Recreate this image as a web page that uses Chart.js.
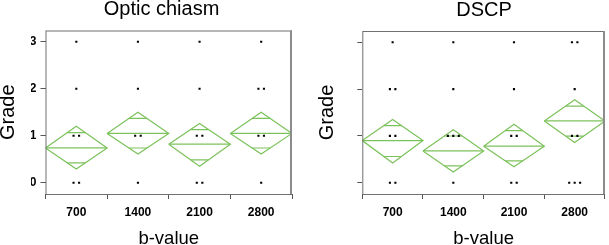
<!DOCTYPE html>
<html>
<head>
<meta charset="utf-8">
<script src="https://cdn.jsdelivr.net/npm/chart.js@4.4.0/dist/chart.umd.min.js"></script>
<style>
  body { margin: 0; background: #fff; font-family: "Liberation Sans", Arial, sans-serif; }
  canvas { position: absolute; top: 0; }
  #opticChart { left: 0; }
  #dscpChart { left: 304px; }
</style>
</head>
<body>
<canvas id="opticChart" width="304" height="245"></canvas>
<canvas id="dscpChart" width="305" height="245"></canvas>
<script>
Chart.defaults.font.family = '"Liberation Sans", Arial, sans-serif';

const bValues = ["700", "1400", "2100", "2800"];
const grades = [0, 1, 2, 3];

// means diamonds: group mean and 95% CI bounds
const opticMean = [0.74, 1.05, 0.82, 1.05];
const opticUpper = [1.2, 1.5, 1.26, 1.5];
const opticLower = [0.29, 0.61, 0.35, 0.61];
const dscpMean = [0.9, 0.68, 0.78, 1.32];
const dscpUpper = [1.35, 1.13, 1.25, 1.77];
const dscpLower = [0.42, 0.23, 0.34, 0.86];

// visible dots: how many at grade 0,1,2,3 for each b-value
const opticCounts = [[2, 2, 1, 1], [1, 2, 1, 1], [2, 2, 1, 1], [1, 2, 2, 1]];
const dscpCounts = [[2, 2, 2, 1], [1, 3, 1, 1], [2, 2, 1, 1], [3, 2, 1, 2]];

const green = "#7cc25b";

const makeDatasets = (mean, upper, lower, counts) => {
  const sets = [];
  const dots = [];
  counts.forEach((row, i) => {
    row.forEach((n, g) => {
      for (let k = 0; k < n; k++) {
        dots.push({ x: i + (k - (n - 1) / 2) * 0.09, y: grades[g] });
      }
    });
  });
  sets.push({
    data: dots,
    pointStyle: "rect",
    pointRadius: 1.5,
    backgroundColor: "#000",
    borderWidth: 0,
  });

  const line = (data) => ({
    data,
    showLine: true,
    borderColor: green,
    borderWidth: 1.2,
    pointRadius: 0,
    fill: false,
  });
  const w = 0.5;
  const inner = w * (1 - Math.SQRT1_2);
  mean.forEach((m, i) => {
    const hi = m + (upper[i] - m) * Math.SQRT1_2;
    const lo = m - (m - lower[i]) * Math.SQRT1_2;
    sets.push(line([
      { x: i - w, y: m },
      { x: i, y: upper[i] },
      { x: i + w, y: m },
      { x: i, y: lower[i] },
      { x: i - w, y: m },
    ]));
    sets.push(line([{ x: i - w, y: m }, { x: i + w, y: m }]));
    sets.push(line([{ x: i - inner, y: hi }, { x: i + inner, y: hi }]));
    sets.push(line([{ x: i - inner, y: lo }, { x: i + inner, y: lo }]));
  });
  return sets;
};

const framePlugin = {
  id: "frame",
  afterDatasetsDraw(chart) {
    const { ctx, chartArea: a } = chart;
    ctx.save();
    ctx.strokeStyle = "#707070";
    ctx.lineWidth = 1;
    ctx.strokeRect(a.left + 0.5, a.top + 0.5, a.right - a.left - 1, a.bottom - a.top);
    ctx.strokeStyle = "#8c8c8c";
    ctx.lineWidth = 2;
    ctx.beginPath();
    ctx.moveTo(a.right - 1, a.top);
    ctx.lineTo(a.right - 1, a.bottom);
    ctx.stroke();
    ctx.restore();
  },
};

const makeChart = (id, title, datasets, pad) =>
  new Chart(document.getElementById(id), {
    type: "scatter",
    data: { datasets },
    options: {
      responsive: false,
      animation: false,
      layout: { padding: { left: pad.left, right: pad.right, top: 0, bottom: 0 } },
      plugins: {
        legend: { display: false },
        tooltip: { enabled: false },
        title: {
          display: true,
          text: title,
          color: "#000",
          font: { size: 20, weight: "normal" },
          padding: { top: pad.titleTop, bottom: pad.titleBottom },
        },
      },
      scales: {
        x: {
          type: "linear",
          min: -0.5,
          max: 3.5,
          afterBuildTicks: (s) => {
            s.ticks = bValues.map((_, i) => ({ value: i }));
          },
          ticks: {
            callback: (v) => bValues[v],
            color: "#000",
            font: { size: 12, weight: "bold" },
            padding: 6,
            maxRotation: 0,
          },
          grid: { offset: true, drawOnChartArea: false, tickLength: 5, color: "#555" },
          border: { display: false },
          title: {
            display: true,
            text: "b-value",
            color: "#000",
            font: { size: 18.5 },
            padding: { top: 0, bottom: -4.6 },
          },
          afterFit: (s) => {
            s.height = 51;
          },
        },
        y: {
          min: -0.24,
          max: 3.24,
          afterBuildTicks: (s) => {
            s.ticks = grades.map((v) => ({ value: v }));
          },
          ticks: { color: "#000", font: { size: 12, weight: "bold" }, padding: 4 },
          grid: { drawOnChartArea: false, tickLength: 5, color: "#555" },
          border: { display: false },
          title: {
            display: true,
            text: "Grade",
            color: "#000",
            font: { size: 20 },
            padding: { top: pad.yTitle, bottom: 0 },
          },
          afterFit: (s) => {
            s.width = pad.yWidth;
          },
        },
      },
    },
    plugins: [framePlugin],
  });

const opticChart = makeChart(
  "opticChart",
  "Optic chiasm",
  makeDatasets(opticMean, opticUpper, opticLower, opticCounts),
  { left: 31, right: 12, yWidth: 14.5, yTitle: -34.7, titleTop: -2.3, titleBottom: 8.8 }
);

const dscpChart = makeChart(
  "dscpChart",
  "DSCP",
  makeDatasets(dscpMean, dscpUpper, dscpLower, dscpCounts),
  { left: 57, right: 2, yWidth: 1.3, yTitle: -45.7, titleTop: -1.2, titleBottom: 8.2 }
);
</script>
</body>
</html>
